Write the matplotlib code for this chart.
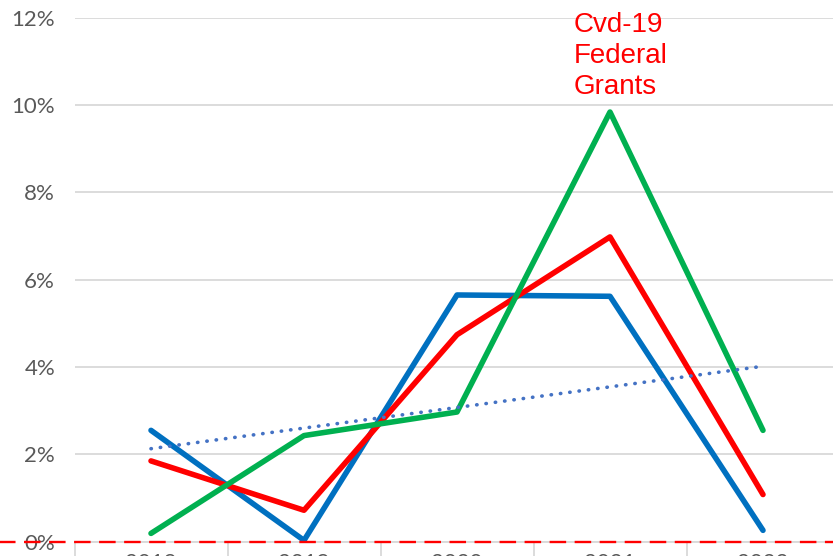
import numpy as np
import matplotlib
matplotlib.use("Agg")
import matplotlib.pyplot as plt
from matplotlib.ticker import FixedLocator, FuncFormatter

# ---- data ----
years = ["2018", "2019", "2020", "2021", "2022"]
blue_vals = [2.55, 0.03, 5.65, 5.62, 0.26]
red_vals = [1.85, 0.72, 4.74, 6.98, 1.08]
green_vals = [0.19, 2.43, 2.97, 9.84, 2.55]
y_ticks = [0, 2, 4, 6, 8, 10, 12]
annotation = "Cvd-19\nFederal\nGrants"

W, H = 833, 556
fig = plt.figure(figsize=(W / 100, H / 100), dpi=100)
ax = fig.add_axes([74.5 / W, (H - 541.7) / H, 765 / W, (541.7 - 17.7) / H])

x = np.arange(len(years))
common = dict(lw=4.0, solid_capstyle="round", solid_joinstyle="round")
ax.plot(x, blue_vals, color="#0070C0", zorder=3, **common)
ax.plot(x, red_vals, color="#FF0000", zorder=4, **common)
ax.plot(x, green_vals, color="#00B050", zorder=5, **common)

# linear trend of the red series
coef = np.polyfit(x, red_vals, 1)
trend = np.polyval(coef, x)
ax.plot(x, trend, color="#4472C4", lw=2.6, linestyle=(0, (0.1, 2.5)),
        dash_capstyle="round", zorder=6)

# red dashed zero line across the full width
ax.axhline(0, xmin=-0.11, xmax=1.1, color="#FF0000", lw=1.7,
           dashes=(7.0, 3.6), clip_on=False, zorder=7)

ax.set_xlim(-0.5, len(years) - 0.5)
ax.set_ylim(0, 12)

ax.yaxis.set_major_locator(FixedLocator(y_ticks))
ax.yaxis.set_major_formatter(FuncFormatter(lambda v, p: f"{v:.0f}%"))
ax.grid(axis="y", color="#D9D9D9", lw=1.3, zorder=0)
ax.set_axisbelow(True)

ax.set_xticks(x)
ax.set_xticklabels(years)
ax.set_xticks(np.arange(-0.5, len(years), 1.0), minor=True)
ax.tick_params(axis="x", which="major", length=0, pad=8,
               labelsize=16, labelcolor="#595959")
ax.tick_params(axis="x", which="minor", length=14, color="#D9D9D9", width=1.3)
ax.tick_params(axis="y", length=0, pad=14, labelsize=16, labelcolor="#595959")
for lab in ax.get_xticklabels() + ax.get_yticklabels():
    lab.set_family("Lato")

for s in ["left", "right", "top"]:
    ax.spines[s].set_visible(False)
ax.spines["bottom"].set_color("#D9D9D9")
ax.spines["bottom"].set_linewidth(1.3)

fig.text(574 / W, 1 - 12 / H, annotation, color="#FF0000", fontsize=20,
         family="Liberation Sans", va="top", ha="left", linespacing=1.26)

fig.savefig("out.png", dpi=100)
